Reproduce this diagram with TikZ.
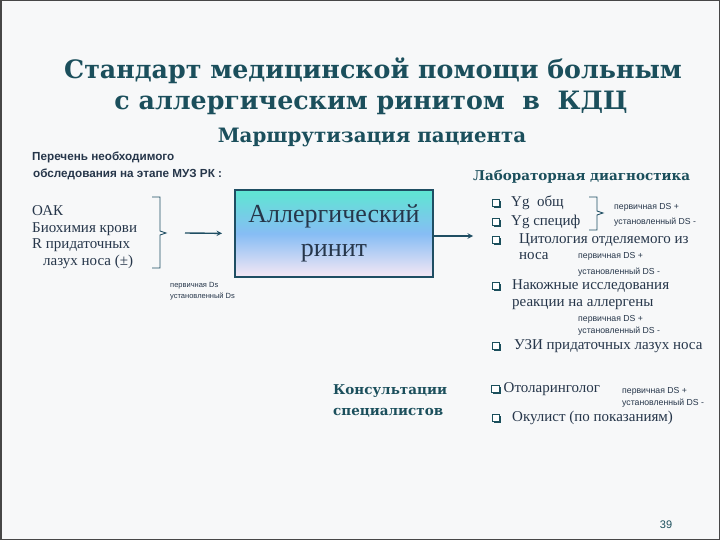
\documentclass[tikz,border=0pt]{standalone}
\usepackage{fontspec}
\setmainfont{Liberation Serif}
\newfontfamily\headfont{DejaVu Serif}
\newfontfamily\notefont{Liberation Sans}
\usetikzlibrary{shadows}
\definecolor{titleteal}{HTML}{1B4F5C}
\definecolor{bodyink}{HTML}{26364A}
\definecolor{lineteal}{HTML}{1F4E63}
\definecolor{boxtop}{HTML}{5EE6D2}
\definecolor{boxmid}{HTML}{86BDF4}
\definecolor{boxbot}{HTML}{F6E8F4}
\definecolor{pagebg}{HTML}{F7F8F9}
\definecolor{framegrey}{HTML}{474747}
\tikzset{
  head/.style={text=titleteal, font=\headfont\bfseries},
  item/.style={anchor=west, font=\fontsize{15}{18}\selectfont},
  note/.style={anchor=west, font=\notefont\fontsize{8.7}{10}\selectfont},
  qbox/.style={draw=titleteal, fill=white, line width=0.8pt, minimum size=7.3pt,
    drop shadow={shadow xshift=1.4pt, shadow yshift=-1.4pt, fill=titleteal, opacity=1}},
  conn/.style={draw=lineteal, line width=1.4pt},
  brk/.style={draw=lineteal, line width=0.8pt},
  dxbox/.style={draw=lineteal, line width=2pt, top color=boxtop, bottom color=boxbot,
    middle color=boxmid, minimum width=198pt, minimum height=87pt, align=center,
    font=\fontsize{26}{34}\selectfont}
}
\begin{document}
\begin{tikzpicture}[x=1pt,y=-1pt,>=stealth, every node/.style={inner sep=0pt, text=bodyink}]
  \useasboundingbox (0,0) rectangle (720,540);
  \draw[draw=framegrey, line width=1.5pt, fill=pagebg] (0.75,0.75) rectangle (719.25,539.25);

  % headings
  \node[head, font=\headfont\bfseries\fontsize{25.3}{28}\selectfont] (title1) at (373,71) {Стандарт медицинской помощи больным};
  \node[head, font=\headfont\bfseries\fontsize{25.3}{28}\selectfont] (title2) at (371,103) {с аллергическим ринитом\ \ в\ \ КДЦ};
  \node[head, font=\headfont\bfseries\fontsize{19.8}{22}\selectfont] (route) at (372,137) {Маршрутизация пациента};

  \node[anchor=west, font=\notefont\bfseries\fontsize{11.7}{13}\selectfont] (list1) at (32,157) {Перечень необходимого};
  \node[anchor=west, font=\notefont\bfseries\fontsize{11.7}{13}\selectfont] (list2) at (33,174) {обследования на этапе МУЗ РК :};
  \node[head, anchor=west, font=\headfont\bfseries\fontsize{13.5}{16}\selectfont] (lab) at (473,177) {Лабораторная диагностика};

  % basic examination
  \node[item] (oak) at (32,211) {ОАК};
  \node[item] (bio) at (32,229) {Биохимия крови};
  \node[item] (rtg) at (32,245) {R придаточных};
  \node[item] (sin) at (43,262) {лазух носа (±)};
  \draw[brk] (152,197) -- (160,197) -- (160,231) -- (166,233) -- (160,235) -- (160,268) -- (152,268);
  \coordinate (lbrace) at (185,233);

  % diagnosis
  \node[dxbox] (dx) at (334,233.5) {Аллергический\\ринит};
  \draw[conn,->,shorten >=12pt] (lbrace) -- (dx.west);
  \node[note, font=\notefont\fontsize{7.5}{9}\selectfont] (prim) at (170,286) {первичная Ds};
  \node[note, font=\notefont\fontsize{7.5}{9}\selectfont] (estab) at (170,296) {установленный Ds};

  % laboratory
  \coordinate (cyto) at (473,236);
  \draw[conn,->] (dx.east |- cyto) -- (cyto);
  \node[qbox] (b1) at (496,203) {};
  \node[qbox] (b2) at (496,222) {};
  \node[qbox] (b3) at (496,240) {};
  \node[item] (ygo) at (511,203) {Yg\ \ общ};
  \node[item] (ygs) at (511,222) {Yg специф};
  \node[item] (cyt1) at (519,240) {Цитология отделяемого из};
  \node[item] (cyt2) at (519,256) {носа};
  \draw[brk] (589,197) -- (597,197) -- (597,211) -- (603,213) -- (597,215) -- (597,230) -- (589,230);
  \node[note] (ygp) at (614,207) {первичная DS +};
  \node[note] (yge) at (614,222) {установленный DS -};
  \node[note] (cytp) at (578,256) {первичная DS +};
  \node[note] (cyte) at (578,272) {установленный DS -};

  \node[qbox] (b4) at (496,286) {};
  \node[item] (skin1) at (512,286) {Накожные исследования};
  \node[item] (skin2) at (512,305) {реакции на аллергены};
  \node[note] (skinp) at (578,319) {первичная DS +};
  \node[note] (skine) at (578,331) {установленный DS -};

  \node[qbox] (b5) at (496,346) {};
  \node[item] (usi) at (514,346) {УЗИ придаточных лазух носа};

  % consultations
  \node[head, anchor=west, font=\headfont\bfseries\fontsize{13.5}{16}\selectfont] (cons1) at (333,391) {Консультации};
  \node[head, anchor=west, font=\headfont\bfseries\fontsize{13.5}{16}\selectfont] (cons2) at (333,413) {специалистов};
  \node[qbox] (b6) at (495.5,389) {};
  \node[item] (ent) at (503.5,389) {Отоларинголог};
  \node[note] (entp) at (622,391) {первичная DS +};
  \node[note] (ente) at (622,403) {установленный DS -};
  \node[qbox] (b7) at (496,418) {};
  \node[item] (ocu) at (512,418) {Окулист (по показаниям)};

  \node[font=\notefont\fontsize{11}{13}\selectfont, text=titleteal] (page) at (666,525) {39};
\end{tikzpicture}
\end{document}
